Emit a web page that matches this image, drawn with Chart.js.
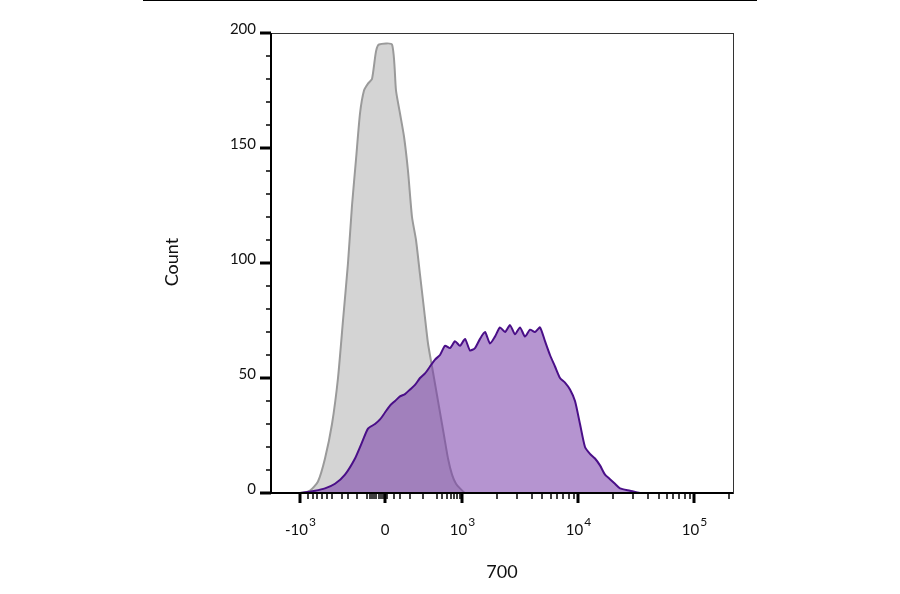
<!DOCTYPE html>
<html><head><meta charset="utf-8">
<script src="https://cdn.jsdelivr.net/npm/chart.js"></script>
<style>body{margin:0;background:#fff}#w{position:relative;width:900px;height:594px}#top{position:absolute;left:143px;top:0;width:614px;height:1px;background:#000}</style>
</head><body><div id="w"><div id="top"></div><canvas id="c" width="900" height="594"></canvas></div>
<script>
const grayX=[0,29,39,47,54,61,67,72,77,81,85,89,93,97,101,105,108,121,125,129,133,137,141,145,149,153,157,161,165,169,173,177,181,185,189,194,204,462];
const grayY=[0,0,1,5,15,30,50,75,100,125,145,165,175,178,180,192,195,195,175,165,155,140,120,110,95,80,65,55,45,35,25,15,8,4,2,0,0,0];
const purX=[0,29,44,54,64,74,84,91,97,104,109,114,119,124,129,134,139,144,149,154,159,164,169,174,179,184,189,194,199,204,209,214,219,224,229,234,239,244,249,254,259,264,269,274,279,284,289,294,299,304,309,314,319,324,329,334,339,344,349,359,369,462];
const purY=[0,0,1,2,4,8,15,22,28,30,32,35,38,40,42,43,45,47,50,52,55,58,60,64,63,66,64,67,62,63,67,70,65,68,72,70,73,69,72,68,71,70,72,66,60,55,50,48,45,40,30,20,17,15,12,8,6,4,2,1,0,0];
const xMajor=[29,114,191,307,423];
const xLabels=[['-10','3'],['0',''],['10','3'],['10','4'],['10','5']];
const xMinor=[37,42,46,51,56,61,71,77,86,96,99,101,103,105,108,110,112,116,123,129,139,152,166,171,176,180,183,186,189,226,246,261,271,280,286,292,298,303,342,362,377,388,396,402,408,414,419,458];
const yMajor=[0,50,100,150,200];
const yMinor=[10,20,30,40,60,70,80,90,110,120,130,140,160,170,180,190];
const toPts=(xs,ys)=>xs.map((x,i)=>({x,y:ys[i]}));
const deco={id:'deco',afterDraw(ch){const c=ch.ctx,a=ch.chartArea,xs=ch.scales.x,ys=ch.scales.y;c.save();
c.strokeStyle='#333';c.lineWidth=1;c.strokeRect(a.left+0.5,a.top+0.5,a.right-a.left,a.bottom-a.top);
c.strokeStyle='#000';c.lineWidth=2;c.beginPath();c.moveTo(a.left,a.bottom);c.lineTo(a.right,a.bottom);c.moveTo(a.left,a.top);c.lineTo(a.left,a.bottom);c.stroke();
c.fillStyle='#111';c.font='15px Lato';
yMajor.forEach(v=>{const p=ys.getPixelForValue(v);c.lineWidth=3;c.beginPath();c.moveTo(a.left-11,p);c.lineTo(a.left,p);c.stroke();c.textAlign='right';c.textBaseline='middle';c.font='15px Lato';c.fillText(String(v),a.left-15,p-4);});
yMinor.forEach(v=>{const p=ys.getPixelForValue(v);c.lineWidth=1.5;c.beginPath();c.moveTo(a.left-5,p);c.lineTo(a.left,p);c.stroke();});
xMajor.forEach((v,i)=>{const p=xs.getPixelForValue(v);c.lineWidth=3;c.beginPath();c.moveTo(p,a.bottom);c.lineTo(p,a.bottom+10);c.stroke();
 const [b,s]=xLabels[i];c.font='15px Lato';c.textBaseline='alphabetic';const bw=c.measureText(b).width;c.font='12px Lato';const sw=c.measureText(s).width;const x0=p-(bw+sw)/2;
 c.textAlign='left';c.font='15px Lato';c.fillText(b,x0,a.bottom+42);c.font='12px Lato';c.fillText(s,x0+bw+1,a.bottom+33);});
xMinor.forEach(v=>{const p=xs.getPixelForValue(v);c.lineWidth=1.5;c.beginPath();c.moveTo(p,a.bottom);c.lineTo(p,a.bottom+6);c.stroke();});
c.font='18px Lato';c.textAlign='center';c.textBaseline='middle';c.fillText('700',(a.left+a.right)/2,572);
c.translate(172,262);c.rotate(-Math.PI/2);c.fillText('Count',0,0);c.restore();}};
new Chart(document.getElementById('c'),{type:'line',data:{datasets:[
{data:toPts(grayX,grayY),order:2,borderColor:'#9a9a9a',backgroundColor:'rgba(205,205,205,0.85)',fill:'origin',borderWidth:2,pointRadius:0,tension:0.2},
{data:toPts(purX,purY),order:1,borderColor:'#4a0f88',backgroundColor:'rgba(120,60,170,0.55)',fill:'origin',borderWidth:2,pointRadius:0,tension:0.2}]},
options:{responsive:false,animation:false,events:[],layout:{padding:{left:271,right:167,top:33,bottom:101}},
plugins:{legend:{display:false},tooltip:{enabled:false}},
scales:{x:{type:'linear',min:0,max:462,display:false},y:{min:0,max:200,display:false}}},plugins:[deco]});
</script></body></html>
